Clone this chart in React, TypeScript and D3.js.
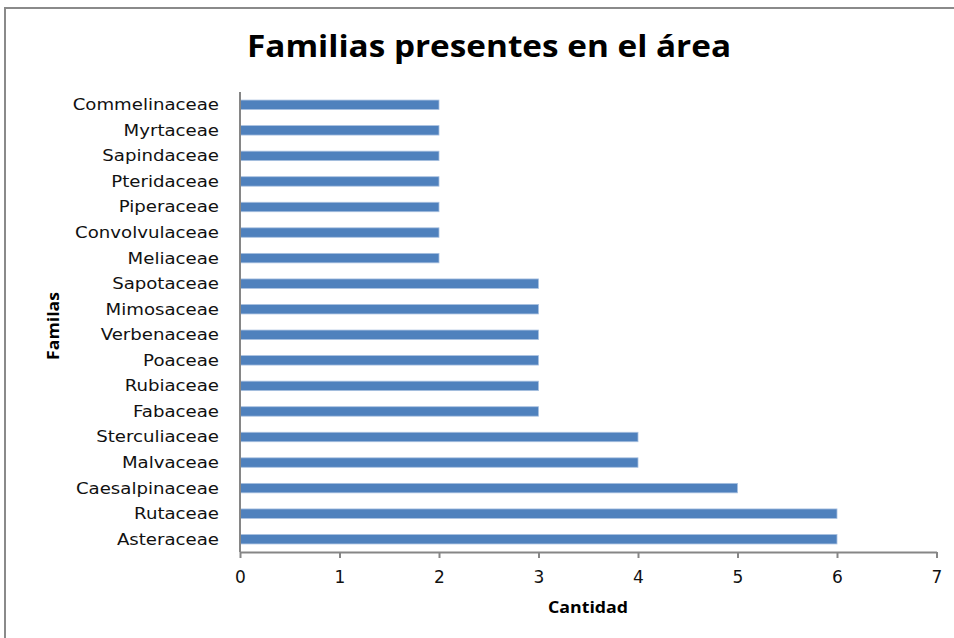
import React, { useEffect, useRef } from 'react';
import * as d3 from 'd3';

// families, listed top to bottom as in the chart
const familias = [
  'Commelinaceae', 'Myrtaceae', 'Sapindaceae', 'Pteridaceae', 'Piperaceae',
  'Convolvulaceae', 'Meliaceae', 'Sapotaceae', 'Mimosaceae', 'Verbenaceae',
  'Poaceae', 'Rubiaceae', 'Fabaceae', 'Sterculiaceae', 'Malvaceae',
  'Caesalpinaceae', 'Rutaceae', 'Asteraceae',
];
const cantidad = [2, 2, 2, 2, 2, 2, 2, 3, 3, 3, 3, 3, 3, 4, 4, 5, 6, 6];
const xTicks = [0, 1, 2, 3, 4, 5, 6, 7];

const title = 'Familias presentes en el área';
const xTitle = 'Cantidad';
const yTitle = 'Familas';

const App: React.FC = () => {
  const ref = useRef<SVGSVGElement>(null);

  useEffect(() => {
    if (!ref.current) return;
    const svg = d3.select(ref.current);
    svg.selectAll('*').remove();

    const W = 954, H = 638;
    const margin = { top: 92, right: 18, bottom: 86, left: 240 };
    const width = 936.5 - margin.left;
    const height = H - margin.top - margin.bottom;
    const stretch = 1.1; // the original text is a bit wide

    // chart frame
    svg.append('rect')
      .attr('x', 5).attr('y', 8)
      .attr('width', W + 10).attr('height', H + 10)
      .attr('fill', '#fff').attr('stroke', '#8a8a8a').attr('stroke-width', 2);

    svg.append('text')
      .attr('x', 247).attr('y', 57)
      .attr('textLength', 484)
      .attr('lengthAdjust', 'spacingAndGlyphs')
      .attr('font-family', 'Open Sans')
      .attr('font-weight', 700)
      .attr('font-size', 30)
      .text(title);

    const g = svg.append('g').attr('transform', `translate(${margin.left},${margin.top})`);

    const x = d3.scaleLinear().domain([0, 7]).range([0, width]);
    const y = d3.scaleBand<string>().domain(familias).range([0, height]).paddingInner(0.63).paddingOuter(0.315);

    // bars
    g.selectAll('rect.bar')
      .data(familias)
      .join('rect')
      .attr('class', 'bar')
      .attr('x', x(0))
      .attr('y', d => y(d) as number)
      .attr('width', (d, i) => x(cantidad[i]) - x(0))
      .attr('height', y.bandwidth())
      .attr('fill', '#4f81bd')
      .attr('stroke', '#a9c1e0')
      .attr('stroke-width', 0.8);

    // category labels
    g.selectAll('text.cat')
      .data(familias)
      .join('text')
      .attr('class', 'cat')
      .attr('transform', d => `translate(-21,${(y(d) as number) + y.bandwidth() / 2}) scale(${stretch},1)`)
      .attr('dy', '0.33em')
      .attr('text-anchor', 'end')
      .attr('font-family', 'DejaVu Sans')
      .attr('font-size', 16.5)
      .attr('fill', '#111')
      .text(d => d);

    // y axis line
    g.append('line')
      .attr('x1', 0).attr('x2', 0).attr('y1', 0).attr('y2', height)
      .attr('stroke', '#868686').attr('stroke-width', 2);

    // x axis
    const xAxis = g.append('g')
      .attr('transform', `translate(0,${height})`)
      .call(d3.axisBottom(x).tickValues(xTicks).tickFormat(d3.format('d')).tickSize(6).tickPadding(13).tickSizeOuter(0));
    xAxis.select('.domain').attr('stroke', '#868686').attr('stroke-width', 2);
    xAxis.selectAll('.tick line').attr('stroke', '#868686').attr('stroke-width', 2);
    xAxis.selectAll('.tick text')
      .attr('font-family', 'DejaVu Sans')
      .attr('font-size', 17)
      .attr('fill', '#111');

    svg.append('text')
      .attr('x', 548).attr('y', 613)
      .attr('textLength', 80)
      .attr('lengthAdjust', 'spacingAndGlyphs')
      .attr('font-family', 'Open Sans')
      .attr('font-weight', 700)
      .attr('font-size', 16)
      .text(xTitle);

    svg.append('text')
      .attr('transform', `translate(59,${360}) rotate(-90)`)
      .attr('textLength', 68)
      .attr('lengthAdjust', 'spacingAndGlyphs')
      .attr('font-family', 'Open Sans')
      .attr('font-weight', 700)
      .attr('font-size', 16)
      .text(yTitle);
  }, []);

  return (
    <svg
      ref={ref}
      width={954}
      height={638}
      style={{ position: 'absolute', left: 0, top: 0, background: '#fff' }}
    />
  );
};

export default App;
